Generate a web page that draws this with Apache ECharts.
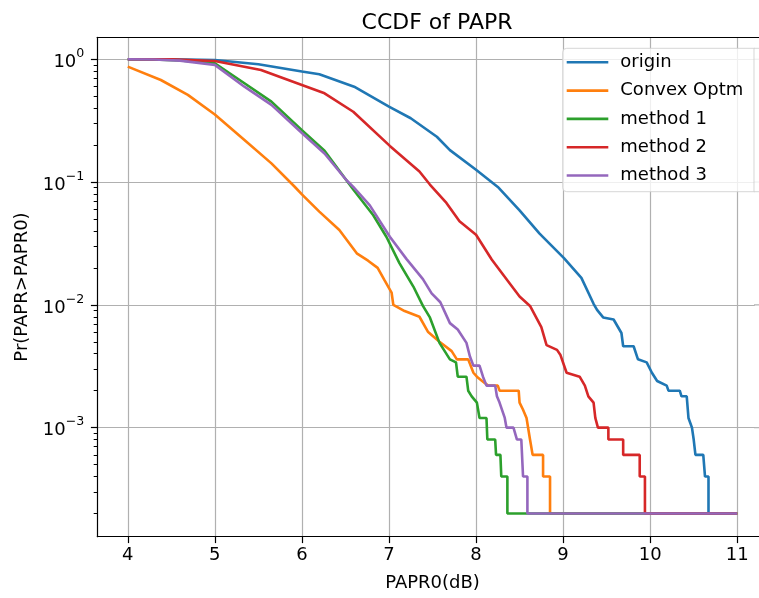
<!DOCTYPE html>
<html><head><meta charset="utf-8">
<script src="https://cdn.jsdelivr.net/npm/echarts@6/dist/echarts.min.js"></script>
<style>html,body{margin:0;padding:0;background:#fff;overflow:hidden}#c{width:759px;height:598px}</style>
</head><body><div id="c"></div>
<script>
const seriesNames = ['origin', 'Convex Optm', 'method 1', 'method 2', 'method 3'];
const seriesColors = ['#1f77b4', '#ff7f0e', '#2ca02c', '#d62728', '#9467bd'];
const xTicks = [4, 5, 6, 7, 8, 9, 10, 11];
const yTickExponents = [-3, -2, -1, 0];

const originX = [4.0, 4.5, 5.0, 5.5, 6.0, 6.2, 6.6, 7.0, 7.25, 7.55, 7.7, 8.0, 8.25, 8.5, 8.73, 9.01, 9.21, 9.35, 9.39, 9.46, 9.58, 9.67, 9.69, 9.81, 9.86, 9.96, 10.02, 10.08, 10.19, 10.21, 10.34, 10.36, 10.42, 10.44, 10.48, 10.50, 10.52, 10.61, 10.63, 10.67, 10.67, 11.0];
const originP = [1, 0.998, 0.986, 0.912, 0.794, 0.755, 0.598, 0.411, 0.331, 0.234, 0.182, 0.126, 0.0912, 0.0589, 0.0380, 0.0240, 0.0166, 0.0102, 0.0091, 0.0079, 0.0076, 0.0059, 0.0046, 0.0046, 0.0036, 0.0034, 0.0028, 0.0024, 0.0022, 0.0020, 0.0020, 0.0018, 0.0018, 0.0012, 0.0010, 0.0008, 0.0006, 0.0006, 0.0004, 0.0004, 0.0002, 0.0002];

const convexX = [4.0, 4.38, 4.69, 5.0, 5.34, 5.65, 5.92, 6.0, 6.2, 6.43, 6.63, 6.76, 6.87, 6.95, 7.03, 7.05, 7.18, 7.35, 7.45, 7.58, 7.72, 7.78, 7.91, 7.97, 8.01, 8.07, 8.14, 8.25, 8.27, 8.49, 8.50, 8.54, 8.58, 8.62, 8.65, 8.77, 8.77, 8.85, 8.85, 11.0];
const convexP = [0.871, 0.678, 0.513, 0.355, 0.220, 0.142, 0.0912, 0.0794, 0.0575, 0.0407, 0.0263, 0.0229, 0.0200, 0.0158, 0.0126, 0.0100, 0.0089, 0.0080, 0.0060, 0.0050, 0.0042, 0.0036, 0.0036, 0.0028, 0.0026, 0.0024, 0.0022, 0.0022, 0.0020, 0.0020, 0.0016, 0.0014, 0.0012, 0.0008, 0.0006, 0.0006, 0.0004, 0.0004, 0.0002, 0.0002];

const method1X = [4.0, 4.3, 4.6, 5.0, 5.34, 5.65, 6.0, 6.26, 6.59, 6.82, 6.97, 7.12, 7.28, 7.39, 7.47, 7.58, 7.70, 7.77, 7.79, 7.89, 7.91, 7.95, 8.01, 8.04, 8.12, 8.13, 8.22, 8.23, 8.28, 8.29, 8.36, 8.36, 11.0];
const method1P = [1, 0.998, 0.98, 0.927, 0.638, 0.452, 0.265, 0.180, 0.0871, 0.0537, 0.0359, 0.0219, 0.0141, 0.0098, 0.0079, 0.0049, 0.0036, 0.0034, 0.0026, 0.0026, 0.0020, 0.0018, 0.0016, 0.0012, 0.0012, 0.0008, 0.0008, 0.0006, 0.0006, 0.0004, 0.0004, 0.0002, 0.0002];

const method2X = [4.0, 4.5, 5.0, 5.53, 6.0, 6.26, 6.59, 7.01, 7.35, 7.47, 7.66, 7.81, 8.0, 8.18, 8.37, 8.50, 8.62, 8.75, 8.81, 8.93, 8.97, 9.04, 9.19, 9.25, 9.29, 9.35, 9.37, 9.40, 9.52, 9.52, 9.69, 9.69, 9.88, 9.88, 9.94, 9.94, 11.0];
const method2P = [1, 0.998, 0.968, 0.818, 0.617, 0.528, 0.374, 0.197, 0.122, 0.0955, 0.0676, 0.0479, 0.0372, 0.0234, 0.0155, 0.0117, 0.0098, 0.0066, 0.0047, 0.0043, 0.0039, 0.0028, 0.0026, 0.0022, 0.0018, 0.0016, 0.0012, 0.0010, 0.0010, 0.0008, 0.0008, 0.0006, 0.0006, 0.0004, 0.0004, 0.0002, 0.0002];

const method3X = [4.0, 4.3, 4.6, 5.0, 5.34, 5.65, 6.0, 6.26, 6.51, 6.59, 6.78, 7.01, 7.20, 7.39, 7.49, 7.59, 7.70, 7.79, 7.89, 7.93, 7.97, 8.04, 8.08, 8.12, 8.22, 8.24, 8.27, 8.33, 8.35, 8.43, 8.47, 8.52, 8.54, 8.59, 8.59, 11.0];
const method3P = [1, 0.995, 0.975, 0.90, 0.598, 0.425, 0.251, 0.171, 0.104, 0.0912, 0.0646, 0.0359, 0.0237, 0.0162, 0.0124, 0.0105, 0.0071, 0.0063, 0.0049, 0.0038, 0.0032, 0.0032, 0.0026, 0.0022, 0.0022, 0.0018, 0.0016, 0.0012, 0.0010, 0.0010, 0.0008, 0.0008, 0.0004, 0.0004, 0.0002, 0.0002];

const allX = [originX, convexX, method1X, method2X, method3X];
const allP = [originP, convexP, method1P, method2P, method3P];

const FONT = 'DejaVu Sans';
const xMin = 3.65, xMax = 11.35;
const yMin = -3.888, yMax = 0.179;
const minorVals = [];
for (let n = -4; n <= 0; n++) {
  for (let k = 2; k <= 9; k++) {
    const v = Math.log10(k) + n;
    if (v >= yMin && v <= yMax) minorVals.push(v);
  }
}
const sup = {'-': '\u2212'};

const series = seriesNames.map((name, i) => ({
  name: name,
  type: 'line',
  symbol: 'none',
  animation: false,
  data: allX[i].map((x, j) => [x, Math.log10(allP[i][j])]),
  lineStyle: { color: seriesColors[i], width: 2.6 },
  itemStyle: { color: seriesColors[i] },
  z: 2 + i
}));

const chart = echarts.init(document.getElementById('c'));
chart.setOption({
  animation: false,
  backgroundColor: '#fff',
  textStyle: { fontFamily: FONT },
  title: {
    text: 'CCDF of PAPR', left: 432, top: 7, textAlign: 'center',
    textStyle: { fontFamily: FONT, fontSize: 22, fontWeight: 'normal', color: '#000' }
  },
  legend: {
    orient: 'vertical', left: 562.7, top: 48.3, z: 100,
    icon: 'rect', itemWidth: 41.6, itemHeight: 2.6, itemGap: 10.3,
    padding: [5, 10, 7.5, 4],
    textStyle: { fontFamily: FONT, fontSize: 18, color: '#000', lineHeight: 18, padding: [0, 0, 0, 7] },
    data: seriesNames
  },
  grid: { left: 97.3, top: 37.3, right: -8.7, bottom: 61.3, show: false, containLabel: false, outerBoundsMode: 'none' },
  xAxis: [{
    type: 'value', min: xMin, max: xMax,
    name: 'PAPR0(dB)', nameLocation: 'middle', nameGap: 38,
    nameTextStyle: { fontFamily: FONT, fontSize: 18, color: '#000' },
    axisLine: { show: true, onZero: false, lineStyle: { color: '#000', width: 1.2 } },
    axisTick: { show: true, length: 6.4, lineStyle: { color: '#000', width: 1.2 }, customValues: xTicks },
    axisLabel: { show: true, margin: 10, fontFamily: FONT, fontSize: 18, color: '#000', customValues: xTicks, formatter: v => String(v) },
    splitLine: { show: true, lineStyle: { color: '#b0b0b0', width: 1.2 } }
  }, {
    type: 'value', min: xMin, max: xMax, position: 'top',
    axisLine: { show: true, onZero: false, lineStyle: { color: '#000', width: 1.2 } },
    axisTick: { show: false }, axisLabel: { show: false }, splitLine: { show: false }, splitArea: { show: false }
  }],
  yAxis: [{
    type: 'value', min: yMin, max: yMax,
    name: 'Pr(PAPR>PAPR0)', nameLocation: 'middle', nameGap: 66,
    nameTextStyle: { fontFamily: FONT, fontSize: 18, color: '#000' },
    axisLine: { show: true, onZero: false, lineStyle: { color: '#000', width: 1.2 } },
    axisTick: { show: true, length: 6.4, lineStyle: { color: '#000', width: 1.2 }, customValues: yTickExponents },
    axisLabel: {
      show: true, margin: 13, customValues: yTickExponents,
      formatter: v => '{b|10}{s|' + String(Math.round(v)).split('').map(c => sup[c] || c).join('') + '}',
      rich: {
        b: { fontFamily: FONT, fontSize: 18, color: '#000', lineHeight: 24, verticalAlign: 'bottom' },
        s: { fontFamily: FONT, fontSize: 12.6, color: '#000', lineHeight: 14, verticalAlign: 'top' }
      }
    },
    splitLine: { show: true, lineStyle: { color: '#b0b0b0', width: 1.2 } }
  }, {
    type: 'value', min: yMin, max: yMax, position: 'left', offset: 0,
    axisLine: { show: false },
    axisTick: { show: true, length: 3.6, lineStyle: { color: '#000', width: 1 }, customValues: minorVals },
    axisLabel: { show: false },
    splitLine: { show: false }, splitArea: { show: false }
  }],
  series: series
});

// legend frame (runs off the right edge, as in the reference) and an edge mask
const gridTop = chart.convertToPixel({ yAxisIndex: 0 }, yMax);
const gridBottom = chart.convertToPixel({ yAxisIndex: 0 }, yMin);
const elements = [{
  type: 'rect', zlevel: 2, z: 1, silent: true,
  shape: { x: 754.8, y: gridTop + 1.3, width: 20, height: gridBottom - gridTop - 2.6 },
  style: { fill: '#fff' }
}];
yTickExponents.forEach(v => {
  const py = chart.convertToPixel({ yAxisIndex: 0 }, v);
  elements.push({
    type: 'line', zlevel: 2, z: 2, silent: true,
    shape: { x1: 754, y1: py, x2: 770, y2: py },
    style: { stroke: '#b0b0b0', lineWidth: 1.2 }
  });
});
elements.push({
  type: 'rect', zlevel: 0, z: 50, silent: true,
  shape: { x: 562.7, y: 48.3, width: 260, height: 143.4, r: 4 },
  style: { fill: 'rgba(255,255,255,0.8)', stroke: 'rgba(204,204,204,0.8)', lineWidth: 1 }
});
elements.push({
  type: 'rect', zlevel: 2, z: 3, silent: true,
  shape: { x: 754, y: 48.3, width: 20, height: 143.4 },
  style: { fill: 'rgba(255,255,255,0.8)', stroke: 'rgba(204,204,204,0.8)', lineWidth: 1 }
});
chart.setOption({ graphic: { elements: elements } });
</script></body></html>
